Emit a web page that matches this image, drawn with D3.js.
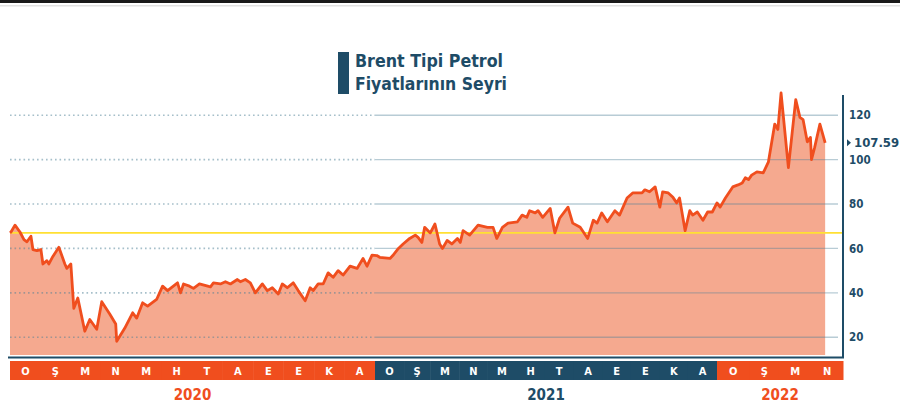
<!DOCTYPE html>
<html>
<head>
<meta charset="utf-8">
<script src="https://cdn.jsdelivr.net/npm/d3@7"></script>
<style>
  html, body { margin: 0; padding: 0; background: #fff; }
  svg { display: block; }
  .cond { font-family: "DejaVu Sans Condensed", "DejaVu Sans", "Liberation Sans Narrow", sans-serif; font-stretch: condensed; font-weight: bold; }
</style>
</head>
<body>
<svg id="chart" width="900" height="411"></svg>
<script>
// ---------- DATA ----------
const titleLines = ["Brent Tipi Petrol", "Fiyatlarının Seyri"];
const monthLetters = ["O", "Ş", "M", "N", "M", "H", "T", "A", "E", "E", "K", "A"];
const years = ["2020", "2021", "2022"];
const yTicks = [20, 40, 60, 80, 100, 120];
const lastLabel = "107.59";
const lastValue = 107.59;
const refLevel = 67;

const dates2020 = ["2020-01-01","2020-01-02","2020-01-06","2020-01-11","2020-01-15","2020-01-18","2020-01-22","2020-01-24","2020-01-28","2020-02-01","2020-02-03","2020-02-07","2020-02-09","2020-02-13","2020-02-19","2020-02-25","2020-02-27","2020-03-02","2020-03-05","2020-03-09","2020-03-16","2020-03-21","2020-03-28","2020-04-02","2020-04-10","2020-04-16","2020-04-17","2020-04-25","2020-05-03","2020-05-07","2020-05-13","2020-05-18","2020-05-27","2020-06-02","2020-06-07","2020-06-17","2020-06-20","2020-06-23","2020-06-29","2020-07-03","2020-07-09","2020-07-20","2020-07-23","2020-07-30","2020-08-04","2020-08-09","2020-08-16","2020-08-19","2020-08-24","2020-08-29","2020-09-03","2020-09-10","2020-09-15","2020-09-20","2020-09-26","2020-09-30","2020-10-05","2020-10-11","2020-10-16","2020-10-23","2020-10-28","2020-10-31","2020-11-05","2020-11-10","2020-11-15","2020-11-20","2020-11-25","2020-11-30","2020-12-07","2020-12-14","2020-12-20","2020-12-24","2020-12-29"];
const prices2020 = [67,67.4,70.5,67.4,64,63,65.5,59.5,59,59.5,53,54.5,53,56.4,60.5,53,51,53,33,37.7,22.7,28,23.6,36,30.5,26,18.2,24,31,28.6,35.5,34,37,43,41,44.5,40,44,43,42,44,42.7,44.5,44,45,44,46,45,46,44.5,40,44,41,42.3,39.5,44,42.3,44.5,41,36.4,42.3,41,44,44,49,47,50,48,52,51,55.5,52,57];

const dates2021 = ["2021-01-03","2021-01-06","2021-01-17","2021-01-20","2021-01-26","2021-01-31","2021-02-07","2021-02-13","2021-02-16","2021-02-20","2021-02-23","2021-03-01","2021-03-06","2021-03-11","2021-03-14","2021-03-19","2021-03-24","2021-03-30","2021-04-02","2021-04-05","2021-04-12","2021-04-21","2021-05-01","2021-05-07","2021-05-11","2021-05-17","2021-05-23","2021-06-02","2021-06-07","2021-06-12","2021-06-15","2021-06-21","2021-06-24","2021-06-29","2021-07-07","2021-07-12","2021-07-17","2021-07-26","2021-07-31","2021-08-08","2021-08-16","2021-08-22","2021-08-26","2021-08-31","2021-09-06","2021-09-14","2021-09-19","2021-09-27","2021-10-03","2021-10-13","2021-10-16","2021-10-21","2021-10-27","2021-11-01","2021-11-04","2021-11-10","2021-11-15","2021-11-19","2021-11-22","2021-11-28","2021-12-03","2021-12-06","2021-12-11","2021-12-17","2021-12-22","2021-12-27"];
const prices2021 = [56.8,56,55.5,56.8,60,62,64.5,66,65,62.7,69.5,67,71,62,60,63.6,62,64.5,62.7,68,66,70.5,69.5,69.5,64.5,69.5,71.4,72,75,74,77,76,77,74,78,67,73.6,78.6,71.4,69.5,64.5,72.7,71.4,76,72,77,75,82.7,85,85,86.4,85.5,87.7,78.6,85.5,85,83,80.5,82.7,68,77,75,76.4,72.7,76.4,76.4];

const dates2022 = ["2022-01-01","2022-01-04","2022-01-09","2022-01-16","2022-01-21","2022-01-25","2022-01-28","2022-01-31","2022-02-03","2022-02-08","2022-02-14","2022-02-19","2022-02-25","2022-02-28","2022-03-03","2022-03-10","2022-03-17","2022-03-21","2022-03-24","2022-03-28","2022-03-31","2022-04-01","2022-04-04","2022-04-09","2022-04-14"];
const prices2022 = [80.5,78.6,82.7,87.7,88.6,89.5,91.8,91,93,94.5,94,99,116,113.6,130,96.4,127,119,118,108,110,100,105.5,116,107.59];

// ---------- SETUP ----------
const parse = d3.timeParse("%Y-%m-%d");
const data = [];
[[dates2020, prices2020], [dates2021, prices2021], [dates2022, prices2022]].forEach(([ds, ps]) => {
  ds.forEach((d, i) => data.push({ date: parse(d), value: ps[i] }));
});

const svg = d3.select("#chart");
const teal = "#1e4c67";
const orange = "#f04e1e";

const x = d3.scaleTime()
  .domain([parse("2020-01-01"), parse("2021-01-01"), parse("2022-01-01"), parse("2022-05-01")])
  .range([10, 375, 717, 843]);
const y = d3.scaleLinear().domain([12, 130]).range([355, 93]);

// top rule
svg.append("rect").attr("x", 0).attr("y", 0).attr("width", 900).attr("height", 3).attr("fill", "#1a1a1a");
svg.append("rect").attr("x", 0).attr("y", 5).attr("width", 900).attr("height", 1.5).attr("fill", "#e2e2e2");

// title
svg.append("rect").attr("x", 338).attr("y", 52).attr("width", 11).attr("height", 42).attr("fill", teal);
svg.append("g").selectAll("text").data(titleLines).join("text")
  .attr("class", "cond")
  .attr("x", 355)
  .attr("y", (d, i) => 67 + i * 23)
  .attr("font-size", 18)
  .attr("fill", teal)
  .attr("textLength", (d, i) => i === 0 ? 148 : 152)
  .attr("lengthAdjust", "spacingAndGlyphs")
  .text(d => d);

// area + line
const area = d3.area().x(d => x(d.date)).y0(y(12)).y1(d => y(d.value)).curve(d3.curveLinear);
const line = d3.line().x(d => x(d.date)).y(d => y(d.value)).curve(d3.curveLinear);

svg.append("path").datum(data).attr("d", area).attr("fill", "#f5a98f");

// gridlines (dotted in 2020, solid afterwards)
const grid = svg.append("g");
const splitX = x(parse("2021-01-01"));
yTicks.forEach(t => {
  grid.append("line")
    .attr("x1", 10).attr("x2", splitX).attr("y1", y(t)).attr("y2", y(t))
    .attr("stroke", "#4d7f96").attr("stroke-opacity", 0.5).attr("stroke-width", 1.6)
    .attr("stroke-dasharray", "1.6,2.9");
  grid.append("line")
    .attr("x1", splitX).attr("x2", 838).attr("y1", y(t)).attr("y2", y(t))
    .attr("stroke", "#4d7f96").attr("stroke-opacity", 0.4).attr("stroke-width", 1.4);
});

// reference line
svg.append("line").attr("x1", 10).attr("x2", 843).attr("y1", y(refLevel)).attr("y2", y(refLevel))
  .attr("stroke", "#ffe033").attr("stroke-width", 1.6);

svg.append("path").datum(data).attr("d", line)
  .attr("fill", "none").attr("stroke", orange).attr("stroke-width", 2.8).attr("stroke-linejoin", "round");

// frame: right axis and bottom
svg.append("line").attr("x1", 843).attr("x2", 843).attr("y1", 95).attr("y2", 357)
  .attr("stroke", teal).attr("stroke-width", 2);
svg.append("line").attr("x1", 8).attr("x2", 844).attr("y1", 357.5).attr("y2", 357.5)
  .attr("stroke", teal).attr("stroke-width", 2);

// right axis labels
const yAxis = d3.axisRight(y).tickValues(yTicks).tickSize(0).tickPadding(6);
const ga = svg.append("g").attr("transform", "translate(843,0)").call(yAxis);
ga.select(".domain").remove();
ga.selectAll("text").attr("class", "cond").attr("font-size", 11.5).attr("fill", teal);

// last value marker
const ly = y(lastValue);
svg.append("path").attr("d", `M847,${ly - 3.5}L851,${ly}L847,${ly + 3.5}Z`).attr("fill", teal);
svg.append("text").attr("class", "cond").attr("x", 854).attr("y", ly).attr("dy", "0.35em")
  .attr("font-size", 13).attr("fill", teal).text(lastLabel);

// month strip
const months = d3.timeMonth.range(parse("2020-01-01"), parse("2022-05-01"));
const strip = svg.append("g");
strip.selectAll("rect").data(months).join("rect")
  .attr("x", d => x(d)).attr("y", 361)
  .attr("width", d => x(d3.timeMonth.offset(d, 1)) - x(d) + 0.5).attr("height", 19)
  .attr("fill", d => d.getFullYear() === 2021 ? teal : orange);
strip.selectAll("text").data(months).join("text")
  .attr("class", "cond")
  .attr("x", d => (x(d) + x(d3.timeMonth.offset(d, 1))) / 2)
  .attr("y", 371).attr("dy", "0.35em").attr("text-anchor", "middle")
  .attr("font-size", 11).attr("fill", "#fff")
  .text(d => monthLetters[d.getMonth()]);

// year labels
svg.append("g").selectAll("text").data(years).join("text")
  .attr("class", "cond")
  .attr("x", d => {
    const s = parse(d + "-01-01"), e = d === "2022" ? parse("2022-05-01") : parse((+d + 1) + "-01-01");
    return (x(s) + x(e)) / 2;
  })
  .attr("y", 395).attr("dy", "0.35em").attr("text-anchor", "middle")
  .attr("font-size", 15).attr("fill", d => d === "2021" ? teal : orange)
  .text(d => d);
</script>
</body>
</html>
